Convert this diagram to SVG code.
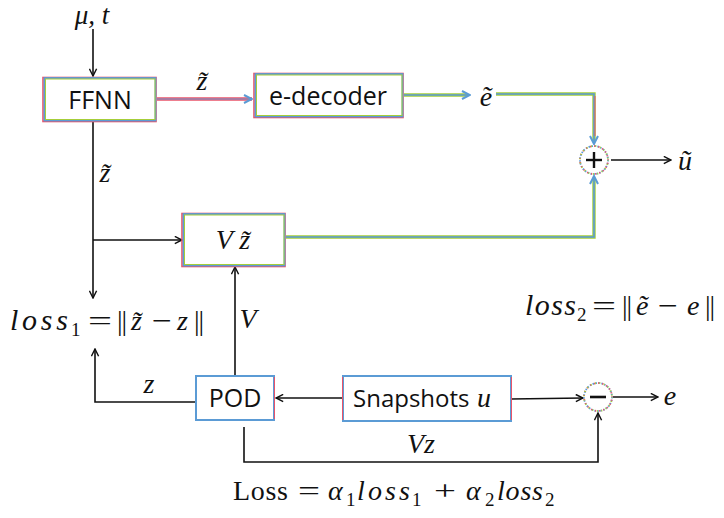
<svg xmlns="http://www.w3.org/2000/svg" width="724" height="518" viewBox="0 0 724 518">
<defs>
<style>
.box{fill:#fff}
.br{fill:none;stroke:#E8546A;stroke-width:1.6}
.bb{fill:none;stroke:#5B9BD5;stroke-width:1.8}
.bg{fill:none;stroke:#A6CE39;stroke-width:1}
.lbl{font-family:"Open Sans","Noto Sans",sans-serif;font-size:25px;fill:#111;text-anchor:middle;dominant-baseline:central}
.m{font-family:"Liberation Serif","DejaVu Serif",serif;font-style:italic;font-size:28px;fill:#111}
.mu{font-family:"Liberation Serif","DejaVu Serif",serif;font-style:normal;font-size:28px;fill:#111}
.sub{font-family:"Liberation Serif","DejaVu Serif",serif;font-style:normal;font-size:19px;fill:#111}
.k{fill:none;stroke:#111;stroke-width:1.6}
.cg{fill:none;stroke:#A6CE39;stroke-width:3.4}
.cb{fill:none;stroke:#5B9BD5;stroke-width:1.6}
.cr{fill:none;stroke:#E8546A;stroke-width:3.6}
.cw{fill:none;stroke:#6A9FD8;stroke-width:1.2}
.circ{fill:#fff;stroke:#5B9BD5;stroke-width:1.8;stroke-dasharray:1.5 1.5}
.circ2{fill:none;stroke:#E8546A;stroke-width:1.8;stroke-dasharray:1.2 3;stroke-dashoffset:1.5}
.circ3{fill:none;stroke:#A6CE39;stroke-width:1.8;stroke-dasharray:1 3.5;stroke-dashoffset:0.5}
</style>
<marker id="ak" viewBox="0 0 10 10" refX="9" refY="5" markerWidth="9" markerHeight="9" markerUnits="userSpaceOnUse" orient="auto"><path d="M1,1 L9,5 L1,9" fill="none" stroke="#111" stroke-width="1.6"/></marker>
<marker id="ab" viewBox="0 0 10 10" refX="9" refY="5" markerWidth="10" markerHeight="10" markerUnits="userSpaceOnUse" orient="auto"><path d="M1,1 L9,5 L1,9" fill="none" stroke="#5B9BD5" stroke-width="2"/></marker>
</defs>

<g id="connectors">
<line class="k" x1="93" y1="29" x2="93" y2="76" marker-end="url(#ak)"/>
<line class="cr" x1="157" y1="99" x2="252" y2="99"/>
<line class="cw" x1="157" y1="99" x2="252" y2="99" marker-end="url(#ab)"/>
<line class="cg" x1="404" y1="95" x2="468" y2="95"/>
<line class="cb" x1="404" y1="95" x2="470" y2="95" marker-end="url(#ab)"/>
<path class="cg" d="M496,94 H594 V142"/>
<path class="cb" d="M496,94 H594 V144" marker-end="url(#ab)"/>
<path fill="none" stroke="#E8546A" stroke-width="1" d="M595,96 V136"/>
<path class="cg" d="M286,237 H594 V178"/>
<path class="cb" d="M286,237 H594 V176" marker-end="url(#ab)"/>
<line class="k" x1="611" y1="160" x2="671" y2="160" marker-end="url(#ak)"/>
<line class="k" x1="93" y1="122" x2="93" y2="298" marker-end="url(#ak)"/>
<line class="k" x1="93" y1="240" x2="182" y2="240" marker-end="url(#ak)"/>
<line class="k" x1="235" y1="375" x2="235" y2="267" marker-end="url(#ak)"/>
<path class="k" d="M196,402 H95 V349" marker-end="url(#ak)"/>
<line class="k" x1="343" y1="398" x2="276" y2="398" marker-end="url(#ak)"/>
<line class="k" x1="511" y1="399" x2="583" y2="398" marker-end="url(#ak)"/>
<line class="k" x1="613" y1="397" x2="658" y2="397" marker-end="url(#ak)"/>
<path class="k" d="M244,427 V462 H598 V413" marker-end="url(#ak)"/>
</g>

<g id="ffnn">
<rect class="box" x="44" y="78" width="112" height="43"/>
<rect class="br" x="43" y="77.5" width="113" height="44"/>
<rect class="bb" x="44.5" y="78" width="111" height="42.5"/>
<rect class="bg" x="45.5" y="79" width="109.5" height="40.5"/>
<text class="lbl" x="100" y="99">FFNN</text>
</g>

<g id="e-decoder">
<rect class="box" x="255" y="74" width="148" height="43"/>
<rect class="br" x="254" y="73.5" width="149" height="44"/>
<rect class="bb" x="255.5" y="74" width="147" height="42.5"/>
<rect class="bg" x="256.5" y="75" width="145.5" height="40.5"/>
<text class="lbl" x="328" y="95">e-decoder</text>
</g>

<g id="vz-tilde">
<rect class="box" x="183" y="214" width="102" height="52"/>
<rect class="br" x="182" y="213.5" width="103" height="53"/>
<rect class="bb" x="183.5" y="214" width="101" height="51.5"/>
<rect class="bg" x="184.5" y="215" width="99.5" height="49.5"/>
<text class="m" x="233" y="249" text-anchor="middle">V z̃</text>
</g>

<g id="pod">
<rect class="box" x="196" y="376" width="78" height="44"/>
<rect class="bb" x="196" y="376" width="78" height="44" style="stroke-width:2"/>
<line x1="274.5" y1="377" x2="274.5" y2="419" stroke="#E8546A" stroke-width="1"/>
<text class="lbl" x="235" y="397">POD</text>
</g>

<g id="snapshots">
<rect class="box" x="343" y="376" width="168" height="45"/>
<rect class="bb" x="343" y="376" width="168" height="45" style="stroke-width:2"/>
<line x1="342.5" y1="377" x2="342.5" y2="420" stroke="#E8546A" stroke-width="1"/>
<line x1="511.5" y1="377" x2="511.5" y2="420" stroke="#E8546A" stroke-width="1"/>
<text class="lbl" x="353" y="397" style="text-anchor:start;font-size:24px">Snapshots</text>
<text class="m" x="477" y="407">u</text>
</g>

<g id="plus">
<circle class="circ" cx="594" cy="160" r="14"/>
<circle class="circ2" cx="594" cy="160" r="14"/>
<circle class="circ3" cx="594" cy="160" r="14"/>
<line x1="586" y1="160" x2="602" y2="160" stroke="#111" stroke-width="2.4"/>
<line x1="594" y1="152" x2="594" y2="168" stroke="#111" stroke-width="2.4"/>
</g>

<g id="minus">
<circle class="circ" cx="598" cy="397" r="14"/>
<circle class="circ2" cx="598" cy="397" r="14"/>
<circle class="circ3" cx="598" cy="397" r="14"/>
<line x1="590" y1="397" x2="606" y2="397" stroke="#111" stroke-width="2.6"/>
</g>

<g id="labels">
<text class="m" x="92" y="24" text-anchor="middle" style="font-size:27px">μ, t</text>
<text class="m" x="202" y="90" text-anchor="middle">z̃</text>
<text class="m" x="105" y="182" text-anchor="middle">z̃</text>
<text class="m" x="486" y="106" text-anchor="middle">ẽ</text>
<text class="m" x="685" y="170" text-anchor="middle">ũ</text>
<text class="m" x="248" y="328" text-anchor="middle">V</text>
<text class="m" x="149" y="393" text-anchor="middle">z</text>
<text class="m" x="670" y="405" text-anchor="middle">e</text>
<text class="m" x="421" y="453" text-anchor="middle">Vz</text>

<g id="loss1">
<text class="m" x="10" y="330" style="font-size:30px" textLength="58" lengthAdjust="spacing">loss</text>
<text class="sub" x="71" y="336">1</text>
<text class="mu" x="88" y="330" textLength="24" lengthAdjust="spacingAndGlyphs">=</text>
<text class="mu" x="117" y="330" letter-spacing="-1">||</text>
<text class="m" x="131" y="330">z̃</text>
<text class="mu" x="152" y="330" textLength="20" lengthAdjust="spacingAndGlyphs">−</text>
<text class="m" x="177" y="330">z</text>
<text class="mu" x="194" y="330" letter-spacing="-1">||</text>
</g>

<g id="loss2">
<text class="m" x="525" y="315" style="font-size:30px" textLength="51" lengthAdjust="spacing">loss</text>
<text class="sub" x="577" y="321">2</text>
<text class="mu" x="592" y="315" textLength="24" lengthAdjust="spacingAndGlyphs">=</text>
<text class="mu" x="622" y="315" letter-spacing="-1">||</text>
<text class="m" x="636" y="315">ẽ</text>
<text class="mu" x="658" y="315" textLength="20" lengthAdjust="spacingAndGlyphs">−</text>
<text class="m" x="687" y="315">e</text>
<text class="mu" x="705" y="315" letter-spacing="-1">||</text>
</g>

<g id="loss-total">
<text class="mu" x="233" y="500" textLength="55" lengthAdjust="spacing">Loss</text>
<text class="mu" x="298" y="500" textLength="22" lengthAdjust="spacingAndGlyphs">=</text>
<text class="m" x="328" y="500">α</text>
<text class="sub" x="346" y="506">1</text>
<text class="m" x="357" y="500" textLength="53" lengthAdjust="spacing">loss</text>
<text class="sub" x="412" y="506">1</text>
<text class="mu" x="434" y="500" textLength="22" lengthAdjust="spacingAndGlyphs">+</text>
<text class="m" x="466" y="500">α</text>
<text class="sub" x="485" y="506">2</text>
<text class="m" x="497" y="500" textLength="46" lengthAdjust="spacing">loss</text>
<text class="sub" x="545" y="506">2</text>
</g>
</g>
</svg>
